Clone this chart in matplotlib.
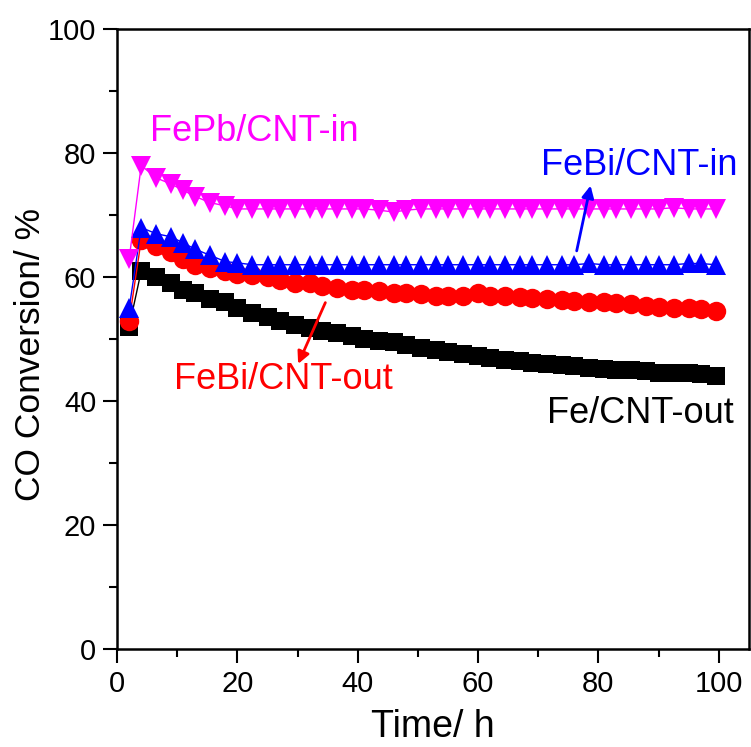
import matplotlib
matplotlib.use("Agg")
import matplotlib.pyplot as plt
from matplotlib.ticker import MultipleLocator

# sampling times (h)
time_h = [2, 4, 6.5, 9, 11, 13, 15.5, 18, 20, 22.5, 25, 27, 29.5, 32, 34,
          36.5, 39, 41, 43.5, 46, 48, 50.5, 53, 55, 57.5, 60, 62, 64.5, 67,
          69, 71.5, 74, 76, 78.5, 81, 83, 85.5, 88, 90, 92.5, 95, 97, 99.5]

fepb_in = [63, 78, 76, 75, 74, 73, 72, 71.5, 71, 71, 71, 71, 71, 71, 71,
           71, 71, 71, 70.8, 70.5, 70.8, 71, 71, 71, 71, 71, 71, 71, 71,
           71, 71, 71, 71, 71, 71, 71, 71, 71, 71, 71.2, 71, 71, 71]

febi_in = [55, 68, 67, 66.5, 65.5, 64.5, 63.5, 62.5, 62.3, 62, 62, 62, 62,
           62, 62, 62, 62, 62, 62, 62, 62, 62, 62, 62, 62, 62, 62, 62, 62,
           62, 62, 62, 62, 62.2, 62, 62, 62, 62, 62, 62, 62.2, 62.2, 62]

febi_out = [53, 66, 65, 64, 63, 62, 61.5, 61, 60.5, 60.3, 60, 59.5, 59, 59,
            58.5, 58.3, 58, 58, 57.8, 57.5, 57.5, 57.2, 57, 57, 57, 57.5, 57,
            57, 56.8, 56.6, 56.5, 56.3, 56.2, 56, 56, 55.8, 55.6, 55.4, 55.2,
            55, 55, 54.8, 54.6]

fe_out = [52, 61, 60, 59, 58, 57.5, 56.5, 56, 55, 54.2, 53.5, 53, 52.2, 51.8,
          51.3, 51, 50.5, 50, 49.7, 49.5, 49, 48.6, 48.3, 48, 47.6, 47.2, 47,
          46.7, 46.4, 46.2, 46, 45.8, 45.6, 45.4, 45.2, 45, 45, 44.8, 44.6,
          44.5, 44.5, 44.4, 44]

series = [
    (fe_out, "black", "s", 13),
    (febi_out, "red", "o", 14),
    (febi_in, "blue", "^", 15),
    (fepb_in, "magenta", "v", 15),
]

plt.rcParams["font.family"] = ["Liberation Sans", "DejaVu Sans"]

fig = plt.figure(figsize=(7.51, 7.47), dpi=100)
ax = fig.add_axes([0.156, 0.131, 0.841, 0.830])

for vals, color, marker, ms in series:
    ax.plot(time_h, vals, color=color, marker=marker, markersize=ms,
            linewidth=1, markeredgewidth=0)

ax.set_xlim(0, 105)
ax.set_ylim(0, 100)
ax.xaxis.set_major_locator(MultipleLocator(20))
ax.xaxis.set_minor_locator(MultipleLocator(10))
ax.yaxis.set_major_locator(MultipleLocator(20))
ax.yaxis.set_minor_locator(MultipleLocator(10))
ax.tick_params(which="major", direction="out", length=10, width=1.5,
               labelsize=21, pad=5)
ax.tick_params(which="minor", direction="out", length=6, width=1.5)
for sp in ax.spines.values():
    sp.set_linewidth(1.8)

ax.set_xlabel("Time/ h", fontsize=27, labelpad=8)
ax.set_ylabel("CO Conversion/ %", fontsize=25.5)
ax.yaxis.set_label_coords(-0.111, 0.475)

ax.text(5.5, 83.5, "FePb/CNT-in", color="magenta", fontsize=26, va="center")
ax.text(70.5, 78, "FeBi/CNT-in", color="blue", fontsize=26, va="center")
ax.text(9.5, 43.5, "FeBi/CNT-out", color="red", fontsize=26, va="center")
ax.text(71.5, 38, "Fe/CNT-out", color="black", fontsize=26, va="center")

ax.annotate("", xy=(78.8, 75.2), xytext=(76.3, 63.8),
            arrowprops=dict(arrowstyle="-|>", color="blue", lw=2, mutation_scale=18))
ax.annotate("", xy=(29.9, 45.6), xytext=(34.8, 56.3),
            arrowprops=dict(arrowstyle="-|>", color="red", lw=2, mutation_scale=18))

fig.savefig("out.png", dpi=100)
